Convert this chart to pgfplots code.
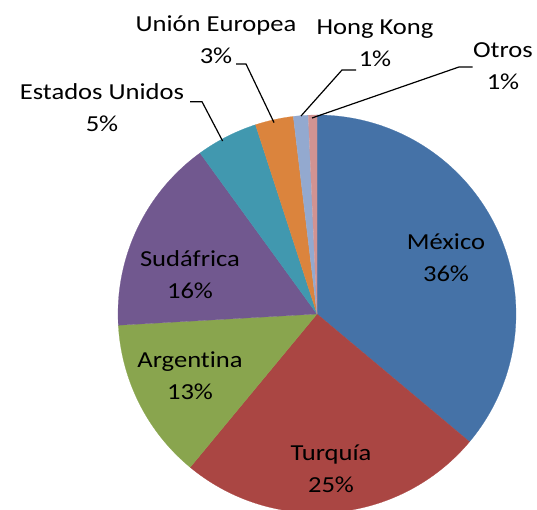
\documentclass[border=0pt]{standalone}
\usepackage{pgfplots}
\pgfplotsset{compat=1.18}
\usepackage{fontspec}
\setmainfont{Carlito}[Ligatures=NoCommon, FakeStretch=1.16]
\definecolor{cMex}{HTML}{4572A7}
\definecolor{cTur}{HTML}{AA4643}
\definecolor{cArg}{HTML}{89A54E}
\definecolor{cSud}{HTML}{71588F}
\definecolor{cEU}{HTML}{4198AF}
\definecolor{cUE}{HTML}{DB843D}
\definecolor{cHK}{HTML}{93A9CF}
\definecolor{cOt}{HTML}{D19392}
\tikzset{lbl/.style={font=\fontsize{23}{32}\selectfont, align=center, text=black, inner sep=0pt}}
\begin{document}
\begin{tikzpicture}
\begin{axis}[name=ax, hide axis, scale only axis, x=1bp, y=1bp,
  xmin=0, xmax=537, ymin=0, ymax=510, clip=true]
% slices: cumulative percentages (México 36.1, Turquía 24.9, Argentina 13.1,
% Sudáfrica 15.9, Estados Unidos 5.0, Unión Europea 3.1, Hong Kong 1.2, Otros 0.7)
\addplot[fill=cMex, draw=cMex, line width=0.2pt, domain=0:36.1, samples=90] ({317+199*sin(3.6*x)},{196+199*cos(3.6*x)}) -- (317,196) -- cycle;
\addplot[fill=cTur, draw=cTur, line width=0.2pt, domain=36.1:61.0, samples=70] ({317+199*sin(3.6*x)},{196+199*cos(3.6*x)}) -- (317,196) -- cycle;
\addplot[fill=cArg, draw=cArg, line width=0.2pt, domain=61.0:74.1, samples=40] ({317+199*sin(3.6*x)},{196+199*cos(3.6*x)}) -- (317,196) -- cycle;
\addplot[fill=cSud, draw=cSud, line width=0.2pt, domain=74.1:90.0, samples=45] ({317+199*sin(3.6*x)},{196+199*cos(3.6*x)}) -- (317,196) -- cycle;
\addplot[fill=cEU, draw=cEU, line width=0.2pt, domain=90.0:95.0, samples=20] ({317+199*sin(3.6*x)},{196+199*cos(3.6*x)}) -- (317,196) -- cycle;
\addplot[fill=cUE, draw=cUE, line width=0.2pt, domain=95.0:98.1, samples=15] ({317+199*sin(3.6*x)},{196+199*cos(3.6*x)}) -- (317,196) -- cycle;
\addplot[fill=cHK, draw=cHK, line width=0.2pt, domain=98.1:99.3, samples=8] ({317+199*sin(3.6*x)},{196+199*cos(3.6*x)}) -- (317,196) -- cycle;
\addplot[fill=cOt, draw=cOt, line width=0.2pt, domain=99.3:100, samples=6] ({317+199*sin(3.6*x)},{196+199*cos(3.6*x)}) -- (317,196) -- cycle;
% labels
\node[lbl] at (axis cs:446,252) {México\\36\%};
\node[lbl] at (axis cs:331,41) {Turquía\\25\%};
\node[lbl] at (axis cs:190,134) {Argentina\\13\%};
\node[lbl] at (axis cs:190,235) {Sudáfrica\\16\%};
\node[lbl] at (axis cs:102,402) {Estados Unidos\\5\%};
\node[lbl] at (axis cs:216,470) {Unión Europea\\3\%};
\node[lbl] at (axis cs:375,467) {Hong Kong\\1\%};
\node[lbl] at (axis cs:503,444) {Otros\\1\%};
% leader lines
\draw[black, line width=1.2pt] (axis cs:190,408.3) -- (axis cs:202,408.3) -- (axis cs:222.6,369);
\draw[black, line width=1.2pt] (axis cs:236,446) -- (axis cs:246,446) -- (axis cs:274,387.4);
\draw[black, line width=1.2pt] (axis cs:356,440) -- (axis cs:342,440) -- (axis cs:301,394);
\draw[black, line width=1.2pt] (axis cs:472.6,443) -- (axis cs:459,443) -- (axis cs:312,392);
\end{axis}
\pgfresetboundingbox
\path[use as bounding box] (ax.south west) rectangle (ax.north east);
\end{tikzpicture}
\end{document}
